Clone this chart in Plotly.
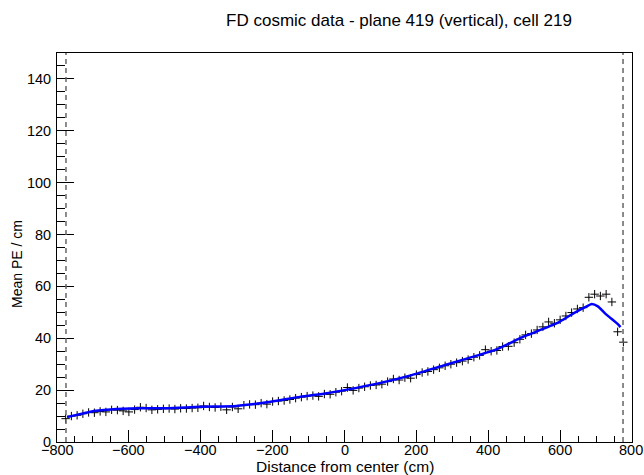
import plotly.graph_objects as go

# Data points (bin centres, cm) and mean PE / cm
dist_cm = [-776 + 16 * i for i in range(98)]
mean_pe = [
    9.0, 10.0, 10.3, 10.9, 11.4, 11.3, 11.8, 11.6, 12.4, 12.3,
    12.0, 11.6, 12.5, 13.4, 13.1, 12.4, 12.6, 12.8, 12.9, 12.7,
    13.0, 12.9, 13.1, 13.2, 13.9, 13.5, 13.3, 13.6, 12.4, 13.5,
    12.8, 14.2, 14.5, 14.4, 15.0, 14.6, 15.6, 15.8, 16.0, 16.4,
    16.9, 17.3, 17.7, 17.9, 17.6, 18.5, 18.4, 19.2, 19.6, 21.0,
    19.9, 20.8, 21.3, 21.8, 22.0, 22.3, 23.3, 24.3, 23.9, 24.8,
    24.6, 26.0, 26.8, 27.2, 27.9, 28.6, 29.4, 30.0, 30.6, 31.2,
    31.8, 32.7, 33.4, 35.6, 35.0, 35.3, 36.8, 36.9, 38.3, 39.6,
    41.3, 41.8, 43.2, 44.4, 46.3, 45.8, 47.1, 48.6, 49.9, 51.3,
    51.8, 55.8, 57.0, 56.3, 57.0, 54.0, 42.5, 38.5,
]

# Fitted curve
fit_x = [-772, -740, -707, -652, -573, -494, -401, -300, -216, -124,
         -49, 0, 94, 187, 280, 373, 419, 498, 591, 637, 670, 688, 705, 725, 762, 768]
fit_y = [9.6, 10.6, 11.7, 12.5, 13.0, 13.0, 13.6, 13.9, 15.3, 17.4,
         18.8, 20.0, 22.6, 25.8, 29.7, 33.5, 35.5, 40.6, 45.8, 49.6,
         52.0, 53.2, 52.3, 49.6, 45.3, 44.3]

# Fiducial edges (dashed lines)
edges_cm = [-775, 775]

# X tick labels
x_tickvals = [-800, -600, -400, -200, 0, 200, 400, 600, 800]
x_ticktext = ["\u2212800", "\u2212600", "\u2212400", "\u2212200", "0", "200", "400", "600", "800"]

title_text = "FD cosmic data - plane 419 (vertical), cell 219"
x_title = "Distance from center (cm)"
y_title = "Mean PE / cm"

FONT = "Liberation Sans, Arial, Helvetica, sans-serif"

fig = go.Figure()

fig.add_trace(go.Scatter(
    x=dist_cm, y=mean_pe, mode="markers",
    marker=dict(symbol="cross-thin", size=6, color="black",
                line=dict(color="black", width=1)),
    showlegend=False, hoverinfo="skip",
))

fig.add_trace(go.Scatter(
    x=fit_x, y=fit_y, mode="lines",
    line=dict(color="#0000ff", width=2.5, shape="spline", smoothing=0.6),
    showlegend=False, hoverinfo="skip",
))

for e in edges_cm:
    fig.add_shape(type="line", xref="x", yref="paper", x0=e, x1=e, y0=0, y1=1,
                  line=dict(color="#666666", width=1.5, dash="5px,4px"))

fig.update_layout(
    width=644, height=475,
    margin=dict(l=57, r=12, t=53, b=33, autoexpand=False),
    paper_bgcolor="white", plot_bgcolor="white",
    font=dict(family=FONT, color="black", size=14),
    title=dict(text=title_text, x=399 / 644, xanchor="center", xref="container",
               y=1 - 20 / 475, yanchor="middle", yref="container",
               font=dict(size=17, family=FONT)),
    showlegend=False,
)

fig.update_xaxes(
    range=[-800, 800], tickvals=x_tickvals, showticklabels=False,
    ticks="inside", ticklen=12, tickwidth=1, tickcolor="black",
    minor=dict(dtick=50, tick0=-800, ticks="inside", ticklen=6, tickwidth=1, tickcolor="black"),
    showline=True, linecolor="black", linewidth=1, mirror=True,
    showgrid=False, zeroline=False, automargin=False,
)
fig.update_yaxes(
    range=[0, 150], dtick=20, tick0=0,
    ticks="inside", ticklen=17, tickwidth=1, tickcolor="black",
    minor=dict(dtick=5, ticks="inside", ticklen=8, tickwidth=1, tickcolor="black"),
    showline=True, linecolor="black", linewidth=1, mirror=True,
    showgrid=False, zeroline=False, automargin=False,
    tickfont=dict(size=14.5, family=FONT),
    ticklabelstandoff=2,
)

for v, t in zip(x_tickvals, x_ticktext):
    last = (v == x_tickvals[-1])
    fig.add_annotation(text=t, xref="x", yref="paper", x=v, y=0,
                       xanchor="right" if last else "center",
                       xshift=12 if last else 0,
                       yanchor="top", yshift=1,
                       showarrow=False, borderpad=0,
                       font=dict(size=14.5, family=FONT))

fig.add_annotation(text=x_title, xref="paper", yref="paper",
                   x=0.5, y=-33 / 389 - 0.002, xanchor="center", yanchor="bottom",
                   showarrow=False, font=dict(size=15.5, family=FONT),
                   borderpad=0)
fig.add_annotation(text=y_title, xref="paper", yref="paper",
                   x=-40 / 575, y=(442 - 264) / 389, xanchor="center", yanchor="middle",
                   textangle=-90, showarrow=False, font=dict(size=14, family=FONT))

fig.write_html("out.html")
